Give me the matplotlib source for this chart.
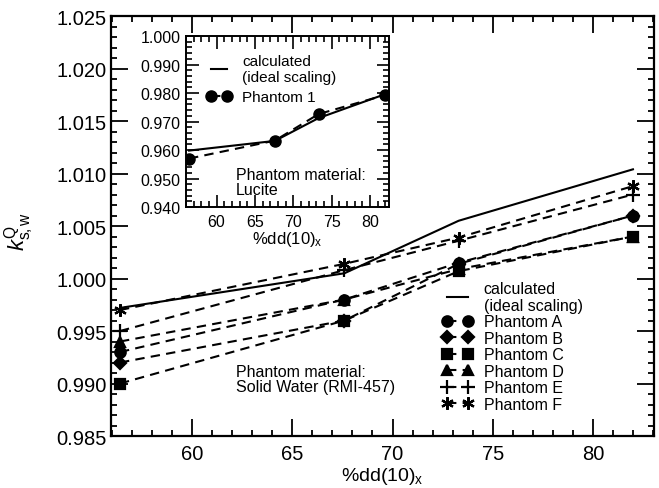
import matplotlib
matplotlib.use("Agg")
import matplotlib.pyplot as plt
from matplotlib.ticker import MultipleLocator, FormatStrFormatter

plt.rcParams["font.family"] = ["Liberation Sans", "DejaVu Sans"]
plt.rcParams["mathtext.fontset"] = "custom"
plt.rcParams["mathtext.rm"] = "Liberation Sans"
plt.rcParams["mathtext.it"] = "Liberation Sans:italic"

# main panel: Solid Water phantoms
pdd = [56.4, 67.6, 73.3, 82.0]
calc = [0.9972, 1.0005, 1.0055, 1.0104]
ph_a = [0.9930, 0.9980, 1.0015, 1.0060]
ph_b = [0.9920, 0.9960, 1.0014, 1.0060]
ph_c = [0.9900, 0.9960, 1.0007, 1.0040]
ph_d = [0.9940, 0.9980, 1.0009, 1.0040]
ph_e = [0.9950, 1.0008, 1.0036, 1.0080]
ph_f = [0.9970, 1.0014, 1.0039, 1.0088]

# inset: Lucite phantom
pdd_in = [56.4, 67.6, 73.3, 82.0]
calc_in = [0.9598, 0.9632, 0.9712, 0.9796]
ph_1 = [0.9570, 0.9633, 0.9726, 0.9793]

series = [
    ("Phantom A", ph_a, "o", 7.5),
    ("Phantom B", ph_b, "D", 6.5),
    ("Phantom C", ph_c, "s", 7),
    ("Phantom D", ph_d, "^", 7.5),
    ("Phantom E", ph_e, "+", 10),
    ("Phantom F", ph_f, (6, 2, 0), 9),
]

fig = plt.figure(figsize=(6.59, 4.89), dpi=100)
ax = fig.add_axes([0.1684, 0.1063, 0.8240, 0.8589])

ax.plot(pdd, calc, color="k", lw=1.5, label="calculated\n(ideal scaling)")
for name, vals, mk, ms in series:
    ax.plot(pdd, vals, color="k", lw=1.5, ls=(0, (4.5, 3)), marker=mk, ms=ms,
            mfc="k", mec="k", mew=1.6, label=name)

ax.set_xlim(55.95, 83.05)
ax.set_ylim(0.985, 1.025)
ax.xaxis.set_major_locator(MultipleLocator(5))
ax.xaxis.set_minor_locator(MultipleLocator(1))
ax.yaxis.set_major_locator(MultipleLocator(0.005))
ax.yaxis.set_minor_locator(MultipleLocator(0.001))
ax.yaxis.set_major_formatter(FormatStrFormatter("%.3f"))
ax.tick_params(which="both", direction="in", top=True, right=True, width=1.3)
ax.tick_params(which="major", length=12, labelsize=14.5)
ax.tick_params(which="minor", length=4.5)
ax.tick_params(axis="x", pad=5.5)
ax.tick_params(axis="y", pad=3)
for sp in ax.spines.values():
    sp.set_linewidth(1.6)

ax.set_xlabel("%dd(10)$_\\mathregular{x}$", fontsize=14, labelpad=2)
ax.set_ylabel("$k_{\\mathregular{s,w}}^{\\mathregular{Q}}$", fontsize=16)
ax.yaxis.set_label_coords(-0.136, 0.49)

ax.text(0.230, 0.135, "Phantom material:\nSolid Water (RMI-457)", transform=ax.transAxes,
        fontsize=11.5, va="center", ha="left", linespacing=1.0)

ax.legend(loc="upper left", bbox_to_anchor=(0.610, 0.370), frameon=False,
          fontsize=11.5, numpoints=2, handlelength=1.9, handletextpad=0.7,
          labelspacing=0.09, borderpad=0, borderaxespad=0)

# inset
axi = fig.add_axes([0.2822, 0.5746, 0.3081, 0.3497])
axi.plot(pdd_in, calc_in, color="k", lw=1.5, label="calculated\n(ideal scaling)")
axi.plot(pdd_in, ph_1, color="k", lw=1.5, ls=(0, (4.5, 3)), marker="o", ms=8,
         mfc="k", mec="k", label="Phantom 1")
axi.set_xlim(56.0, 82.5)
axi.set_ylim(0.940, 1.000)
axi.xaxis.set_major_locator(MultipleLocator(5))
axi.xaxis.set_minor_locator(MultipleLocator(1))
axi.yaxis.set_major_locator(MultipleLocator(0.01))
axi.yaxis.set_minor_locator(MultipleLocator(0.002))
axi.yaxis.set_major_formatter(FormatStrFormatter("%.3f"))
axi.tick_params(which="both", direction="in", top=True, right=True, width=1.2)
axi.tick_params(which="major", length=9, labelsize=11.5)
axi.tick_params(which="minor", length=4)
axi.tick_params(axis="x", pad=5)
axi.tick_params(axis="y", pad=4)
for sp in axi.spines.values():
    sp.set_linewidth(1.4)
axi.set_xlabel("%dd(10)$_\\mathregular{x}$", fontsize=12, labelpad=0)

axi.text(0.246, 0.149, "Phantom material:\nLucite", transform=axi.transAxes,
         fontsize=11.5, va="center", ha="left", linespacing=1.0)
axi.legend(loc="upper left", bbox_to_anchor=(0.10, 0.895), frameon=False,
           fontsize=11, numpoints=2, handlelength=1.65, handletextpad=0.7,
           labelspacing=0.38, borderpad=0, borderaxespad=0)

fig.savefig("out.png", dpi=100)
